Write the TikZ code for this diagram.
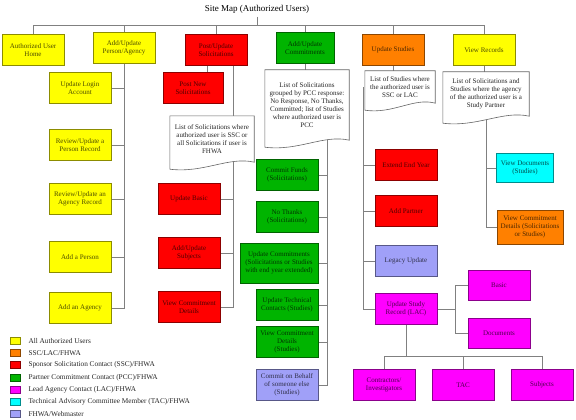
\documentclass[tikz,border=0pt]{standalone}
\usepackage{fontspec}
\setmainfont{Liberation Serif}
\usetikzlibrary{calc,positioning}
\pgfdeclarelayer{back}
\pgfdeclarelayer{docs}
\pgfsetlayers{back,docs,main}
\definecolor{cyel}{HTML}{FFFF00}
\definecolor{cora}{HTML}{FF8000}
\definecolor{cred}{HTML}{FF0000}
\definecolor{cgrn}{HTML}{00B400}
\definecolor{cmag}{HTML}{FF00FF}
\definecolor{ccya}{HTML}{00FFFF}
\definecolor{clav}{HTML}{A0A0F8}
\newcommand{\boxfont}{\fontsize{7}{8}\selectfont}
% page shape with a wavy bottom, drawn behind the node text
\newcommand{\docshape}[1]{%
  \path[draw=black!60, fill=white, line width=0.6pt]
    (#1.south east) -- (#1.north east) -- (#1.north west) -- ([yshift=-7pt]#1.south west)
    .. controls ($([yshift=-7pt]#1.south west)!0.4!(#1.south east)+(0pt,-7pt)$)
    and ($(#1.south east)!0.3!(#1.south west)+(0pt,6pt)$) .. (#1.south east) -- cycle;}

\begin{document}
\begin{tikzpicture}[x=1pt, y=-1pt,
    box/.style={draw=#1!55!black, fill=#1, text=#1!30!black, line width=0.6pt,
      align=center, inner sep=1pt, minimum width=62pt, minimum height=31pt, font=\boxfont},
    doc/.style={align=center, inner sep=1pt, text=black!85, font=\boxfont},
    link/.style={draw=gray, line width=0.8pt},
    legsq/.style={minimum width=10pt, minimum height=7pt, inner sep=0pt, line width=0.6pt},
    legtext/.style={inner sep=1pt, text=black!85, font=\fontsize{7.3}{8}\selectfont}]
  \useasboundingbox (0,0) rectangle (576,420);
  \node[font=\fontsize{9}{10}\selectfont] (title) at (257,9) {Site Map (Authorized Users)};
  % top row
  \node[box=cyel] (home) at (33,50) {Authorized User\\Home};
  \node[box=cyel] (person) at (124,48) {Add/Update\\Person/Agency};
  \node[box=cred] (solic) at (216,50) {Post/Update\\Solicitations};
  \node[box=cgrn, minimum width=58pt] (commit) at (305,48) {Add/Update\\Commitments};
  \node[box=cora] (studies) at (393,50) {Update Studies};
  \node[box=cyel] (records) at (484,50) {View Records};
  % person/agency
  \node[box=cyel] (login) at (80,88) {Update Login\\Account};
  \node[box=cyel] (revperson) at (80,145) {Review/Update a\\Person Record};
  \node[box=cyel] (revagency) at (80,199) {Review/Update an\\Agency Record};
  \node[box=cyel] (addperson) at (80,257) {Add a Person};
  \node[box=cyel] (addagency) at (80,308) {Add an Agency};
  % solicitations
  \node[box=cred, minimum width=60pt] (postnew) at (193,88) {Post New\\Solicitations};
  \node[doc, minimum width=84pt, minimum height=46pt] (solicdoc) at (212,139)
    {List of Solicitations where\\authorized user is SSC or\\all Solicitations if user is\\FHWA};
  \node[box=cred] (upbasic) at (189,199) {Update Basic};
  \node[box=cred] (subjects) at (189,253) {Add/Update\\Subjects};
  \node[box=cred] (viewcd) at (189,307) {View Commitment\\Details};
  % commitments
  \node[doc, minimum width=84pt, minimum height=70pt] (commitdoc) at (307,105)
    {List of Solicitations\\grouped by PCC response:\\No Response, No Thanks,\\Committed; list of Studies\\where authorized user is\\PCC};
  \node[box=cgrn] (funds) at (287,175) {Commit Funds\\(Solicitations)};
  \node[box=cgrn] (nothanks) at (287,217) {No Thanks\\(Solicitations)};
  \node[box=cgrn, minimum width=78pt, minimum height=40pt] (updcommit) at (279,263)
    {Update Commitments\\(Solicitations or Studies\\with end year extended)};
  \node[box=cgrn] (techcont) at (287,305) {Update Technical\\Contacts (Studies)};
  \node[box=cgrn] (viewcds) at (287,342) {View Commitment\\Details\\(Studies)};
  \node[box=clav] (behalf) at (287,385) {Commit on Behalf\\of someone else\\(Studies)};
  % studies
  \node[doc, minimum width=70pt, minimum height=32pt] (studydoc) at (400,87)
    {List of Studies where\\the authorized user is\\SSC or LAC};
  \node[box=cred] (extend) at (406,165) {Extend End Year};
  \node[box=cred] (partner) at (406,211) {Add Partner};
  \node[box=clav] (legacy) at (406,261) {Legacy Update};
  \node[box=cmag] (usr) at (406,309) {Update Study\\Record (LAC)};
  \node[box=cmag, minimum height=30pt] (basic) at (499,285) {Basic};
  \node[box=cmag, minimum height=30pt] (documents) at (499,333) {Documents};
  \node[box=cmag] (contractors) at (384,385) {Contractors/\\Investigators};
  \node[box=cmag] (tac) at (463,385) {TAC};
  \node[box=cmag] (subjects2) at (542,385) {Subjects};
  % records
  \node[doc, minimum width=86pt, minimum height=44pt] (recdoc) at (486,94)
    {List of Solicitations and\\Studies where the agency\\of the authorized user is a\\Study Partner};
  \node[box=ccya, minimum width=57pt, minimum height=29pt] (viewdocs) at (525,168) {View Documents\\(Studies)};
  \node[box=cora, minimum width=66pt, minimum height=34pt] (viewcdet) at (530,227)
    {View Commitment\\Details (Solicitations\\or Studies)};
  % legend
  \foreach \c/\t [count=\i] in {cyel/{All Authorized Users}, cora/{SSC/LAC/FHWA},
      cred/{Sponsor Solicitation Contact (SSC)/FHWA}, cgrn/{Partner Commitment Contact (PCC)/FHWA},
      cmag/{Lead Agency Contact (LAC)/FHWA}, ccya/{Technical Advisory Committee Member (TAC)/FHWA},
      clav/{FHWA/Webmaster}} {
    \node[legsq, fill=\c, draw=\c!55!black] (leg\i) at (15,{341+12.1*(\i-1)}) {};
    \node[legtext, right=7pt of leg\i] (legt\i) {\t};
  }
  \begin{pgfonlayer}{docs}
    \docshape{solicdoc}
    \docshape{commitdoc}
    \docshape{studydoc}
    \docshape{recdoc}
  \end{pgfonlayer}
  \begin{pgfonlayer}{back}
    \coordinate (bus) at (0,25);
    \draw[link] (title.south) -- (title.south |- bus);
    \draw[link] (home.north) |- (bus -| records.north) -- (records.north);
    \foreach \n in {person,solic,commit,studies}
      \draw[link] (\n.north) -- (\n.north |- bus);
    % person/agency
    \draw[link] (person.south) |- (addagency.east);
    \foreach \n in {login,revperson,revagency,addperson}
      \draw[link] (\n.east) -- (\n.east -| person.south);
    % solicitations
    \draw[link] ([xshift=-9pt]solic.south) -- ([xshift=-9pt]solic.south |- postnew.north);
    \coordinate (solicbus) at ([xshift=17pt]solic.south);
    \draw[link] (solicbus) |- (viewcd.east);
    \foreach \n in {upbasic,subjects}
      \draw[link] (\n.east) -- (\n.east -| solicbus);
    % commitments
    \draw[link] (commit.south) -- (commit.south |- commitdoc.north);
    \coordinate (commitbus) at ([xshift=20pt]commitdoc.center);
    \draw[link] (commitbus) |- (behalf.east);
    \foreach \n in {funds,nothanks,updcommit,techcont,viewcds}
      \draw[link] (\n.east) -- (\n.east -| commitbus);
    % studies
    \draw[link] (studies.south) -- (studies.south |- studydoc.north);
    \coordinate (studybus) at ([xshift=-1pt]studydoc.west);
    \draw[link] (studybus) |- (usr.west);
    \foreach \n in {extend,partner,legacy}
      \draw[link] (\n.west) -- (\n.west -| studybus);
    \coordinate (usrbus) at ([xshift=18pt]usr.east);
    \draw[link] (usr.east) -- (usrbus);
    \draw[link] (basic.west) -| (usrbus) |- (documents.west);
    \coordinate (lowbus) at (0,356);
    \draw[link] (usr.south) -- (usr.south |- lowbus);
    \draw[link] (contractors.north) |- (lowbus -| subjects2.north) -- (subjects2.north);
    \draw[link] (tac.north) -- (tac.north |- lowbus);
    % records
    \draw[link] (records.south) -- (records.south |- recdoc.north);
    \draw[link] (recdoc.center) |- (viewcdet.west);
    \draw[link] (viewdocs.west) -- (viewdocs.west -| recdoc.center);
  \end{pgfonlayer}
\end{tikzpicture}
\end{document}
